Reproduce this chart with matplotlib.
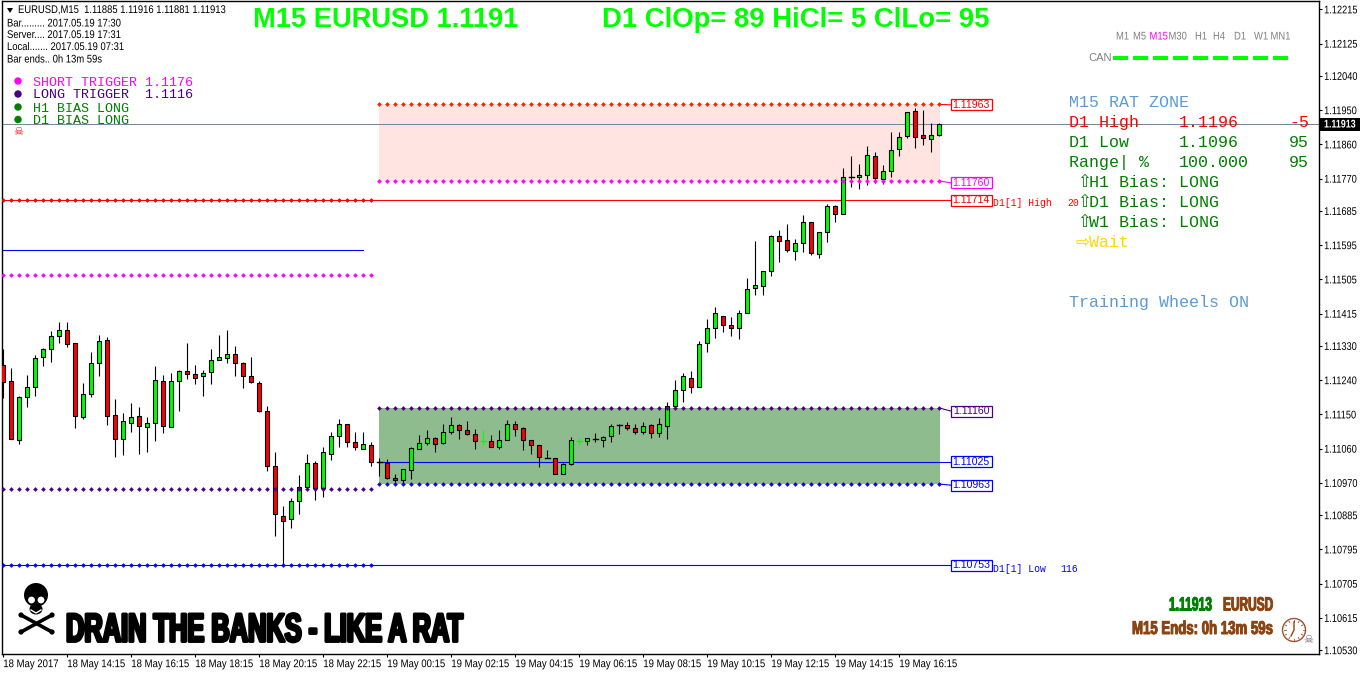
import numpy as np
import matplotlib
matplotlib.use('Agg')
import matplotlib.pyplot as plt
import matplotlib.patheffects as pe
from matplotlib.patches import Circle, Ellipse
from matplotlib.transforms import Affine2D

# EURUSD M15 candles, prices in points (1.11885 -> 111885)
opens = [111279,111237,111082,111195,111221,111300,111321,111355,111371,111337,
         111144,111203,111284,111345,111148,111085,111127,111145,111116,111127,
         111237,111116,111237,111263,111255,111250,111261,111292,111297,111310,
         111284,111250,111232,111158,111014,110882,110874,110921,110959,111022,
         110956,111045,111093,111124,111077,111060,111069,111024,111022,110982,
         110977,111003,111060,111074,111087,111074,111103,111121,111108,111098,
         111079,111079,111063,111084,111124,111113,111084,111069,111036,111035,
         110993,111019,111079,111079,111086,111084,111092,111122,111121,111113,
         111103,111121,111100,111119,111173,111213,111245,111221,111337,111376,
         111409,111384,111376,111416,111482,111487,111527,111619,111608,111579,
         111600,111655,111571,111629,111697,111677,111775,111775,111780,111830,
         111769,111790,111848,111882,111948,111885,111874,111885]
highs = [111322,111271,111198,111253,111305,111324,111368,111393,111393,111337,
         111232,111313,111360,111353,111190,111153,111179,111169,111142,111276,
         111253,111258,111268,111337,111279,111266,111321,111360,111373,111329,
         111289,111300,111237,111171,111051,110908,110929,110990,111045,111027,
         111064,111103,111137,111125,111103,111103,111077,111036,111032,110993,
         111006,111063,111095,111108,111090,111124,111142,111126,111132,111111,
         111108,111095,111108,111134,111132,111116,111084,111069,111056,111036,
         111022,111090,111089,111087,111100,111092,111124,111124,111129,111124,
         111129,111124,111140,111182,111240,111258,111263,111342,111400,111432,
         111409,111406,111424,111508,111605,111527,111621,111634,111650,111611,
         111674,111655,111629,111703,111700,111798,111830,111809,111856,111840,
         111806,111893,111893,111945,111956,111951,111916,111916]
lows = [111194,111085,111073,111170,111198,111278,111288,111338,111328,111113,
        111139,111197,111252,111121,111037,111044,111105,111047,111050,111079,
        111100,111116,111160,111244,111231,111199,111231,111292,111286,111252,
        111220,111232,111156,111000,110831,110756,110852,110889,110958,110924,
        110932,111029,111063,111065,111057,111060,111015,110988,110979,110971,
        110969,110981,111060,111070,111052,111071,111098,111086,111095,111060,
        111069,111063,111058,111084,111093,111057,111045,111013,111035,110992,
        110993,111018,111069,111070,111077,111065,111078,111099,111110,111098,
        111098,111089,111090,111086,111173,111183,111207,111221,111314,111352,
        111367,111357,111349,111416,111465,111463,111513,111552,111576,111555,
        111576,111568,111560,111602,111657,111677,111748,111743,111753,111759,
        111755,111775,111829,111877,111850,111858,111839,111881]
closes = [111236,111086,111195,111221,111297,111321,111355,111371,111334,111147,
          111203,111284,111342,111147,111085,111132,111142,111119,111127,111240,
          111119,111237,111263,111255,111247,111258,111292,111300,111308,111284,
          111250,111234,111158,111014,110889,110871,110921,110959,111022,110956,
          111051,111093,111124,111078,111063,111071,111026,111023,110982,110977,
          111006,111061,111074,111087,111071,111103,111121,111108,111098,111079,
          111079,111063,111084,111124,111111,111084,111069,111037,111035,110993,
          111019,111084,111079,111087,111085,111090,111119,111123,111113,111103,
          111119,111100,111126,111171,111213,111250,111221,111334,111376,111416,
          111384,111376,111416,111479,111490,111527,111619,111605,111582,111600,
          111655,111574,111629,111697,111676,111775,111774,111780,111832,111772,
          111790,111846,111880,111945,111880,111877,111885,111913]

time_labels = ['18 May 2017','18 May 14:15','18 May 16:15','18 May 18:15','18 May 20:15',
               '18 May 22:15','19 May 00:15','19 May 02:15','19 May 04:15','19 May 06:15',
               '19 May 08:15','19 May 10:15','19 May 12:15','19 May 14:15','19 May 16:15']
price_ticks = ['1.12215','1.12125','1.12040','1.11950','1.11860','1.11770','1.11685',
               '1.11595','1.11505','1.11415','1.11330','1.11240','1.11150','1.11060',
               '1.10970','1.10885','1.10795','1.10705','1.10615','1.10530']

# levels in points
short_zone = [111965, 111764]
long_zone = [111167, 110967]
zone_bars = [47, 117]
left_bars = [0, 46]
bid = 111913
d1_high = 111714
d1_low = 110754
mid_line = 111025
left_blue = 111582
left_magenta = 111517
left_purple = 110955

box_labels = [('1.11963', 111964, '#ff0000'), ('1.11760', 111759, '#ff00ff'),
              ('1.11714', 111714, '#ff0000'), ('1.11160', 111159, '#4b0082'),
              ('1.11025', 111025, '#0000ff'), ('1.10963', 110964, '#0000ff'),
              ('1.10753', 110754, '#0000ff')]

timeframes = ['M1','M5','M15','M30','H1','H4','D1','W1','MN1']
tf_x = [1122,1139,1159,1178,1201,1219,1240,1260,1280]


class Squeeze(pe.AbstractPathEffect):
    # no condensed font here, so narrow the glyphs and optionally fatten them
    def __init__(self, sx, stroke=0):
        super().__init__()
        self.sx = sx
        self.stroke = stroke

    def draw_path(self, renderer, gc, tpath, affine, rgbFace=None):
        aff = Affine2D().scale(self.sx, 1) + affine
        if self.stroke:
            gc0 = renderer.new_gc()
            gc0.copy_properties(gc)
            gc0.set_linewidth(self.stroke)
            gc0.set_foreground(rgbFace)
            renderer.draw_path(gc0, tpath, aff, rgbFace)
            gc0.restore()
        renderer.draw_path(gc, tpath, aff, rgbFace)


W, H = 1362, 675
fig = plt.figure(figsize=(W/100, H/100), dpi=100, facecolor='white')
ax = fig.add_axes([2/W, (H-654)/H, 1317/W, 653/H])

idx = np.arange(len(opens))
o, h, l, c = [np.array(a)/1e5 for a in (opens, highs, lows, closes)]
to_p = lambda v: v/1e5

ax.set_xlim(-0.1625, 164.46)
ax.set_ylim(1.10520, 1.12237)

# zones
zone_x = [zone_bars[0]-0.1, zone_bars[1]+0.1]
ax.fill_between(zone_x, to_p(short_zone[1]), to_p(short_zone[0]), color='#ffe4e1', lw=0, zorder=1)
ax.fill_between(zone_x, to_p(long_zone[1]), to_p(long_zone[0]), color='#8fbc8f', lw=0, zorder=1)

# solid lines under the candles
box_x = 118.4
ax.axhline(to_p(bid), color='#778899', lw=0.75, zorder=2)
ax.plot([-0.16, box_x], [to_p(d1_high)]*2, color='#ff0000', lw=0.8, zorder=2)
ax.plot([-0.16, box_x], [to_p(d1_low)]*2, color='#0000ff', lw=0.8, zorder=2)
ax.plot([zone_bars[0]-0.1, box_x], [to_p(mid_line)]*2, color='#0000ff', lw=0.8, zorder=2)
ax.plot([-0.16, 44.95], [to_p(left_blue)]*2, color='#0000ff', lw=0.8, zorder=2)
for lev, lab, col in [(short_zone[0], 111964, '#ff0000'), (short_zone[1], 111759, '#ff00ff'),
                      (long_zone[0], 111159, '#4b0082'), (long_zone[1], 110964, '#0000ff')]:
    ax.plot([zone_bars[1], box_x], [to_p(lev), to_p(lab)], color=col, lw=0.8, zorder=2)

# candles
up = c > o
doji = c == o
thin = np.abs(c-o) < 0.000015
wick_col = ['#00ff00' if d else 'black' for d in doji]
ax.vlines(idx, l, h, colors=wick_col, lw=0.8, zorder=3)
body = ~thin
ax.bar(idx[body], np.abs(c-o)[body], bottom=np.minimum(o, c)[body], width=0.5,
       color=['#00ff00' if u else '#ff0000' for u in up[body]], edgecolor='black', lw=0.8, zorder=4)
for i in idx[thin]:
    ax.plot([i-0.3, i+0.3], [o[i], o[i]], color=wick_col[i], lw=1.0, zorder=4)


# dotted levels on top
def dots(price, bars, col):
    xs = np.arange(bars[0], bars[1]+1)
    ax.plot(xs, [to_p(price)]*len(xs), ls='none', marker='D', ms=2.4, mew=0, color=col, zorder=5)


dots(short_zone[0], zone_bars, '#ff2200')
dots(short_zone[1], zone_bars, '#ff00ff')
dots(long_zone[0], zone_bars, '#4b0082')
dots(long_zone[1], zone_bars, '#1a00e0')
dots(d1_high, left_bars, '#ff0000')
dots(d1_low, left_bars, '#0000ff')
dots(left_magenta, left_bars, '#ff00ff')
dots(left_purple, left_bars, '#4b0082')

# axes
ax.yaxis.tick_right()
ax.set_yticks([float(t) for t in price_ticks])
ax.set_yticklabels(price_ticks, family='Liberation Sans', fontsize=8)
ax.set_xticks(np.arange(len(time_labels))*8)
ax.set_xticklabels(time_labels, ha='left', family='Liberation Sans', fontsize=8)
ax.tick_params(axis='y', length=2.2, width=0.8, pad=1.5)
ax.tick_params(axis='x', length=2.2, width=0.8, pad=1.5)
for tl in ax.get_yticklabels():
    tl.set_path_effects([Squeeze(0.83)])
for tl in ax.get_xticklabels():
    tl.set_path_effects([Squeeze(0.86)])
for s in ax.spines.values():
    s.set_linewidth(1.0)

# overlay in pixels for texts and icons
ov = fig.add_axes([0, 0, 1, 1], facecolor='none')
ov.set_xlim(0, W)
ov.set_ylim(H, 0)
ov.axis('off')

TAH = 'Liberation Sans'
MONO = 'Liberation Mono'


def t(x, y, s, col='black', size=8, fam=TAH, **kw):
    kw.setdefault('va', 'center')
    return ov.text(x, y, s, color=col, fontsize=size, family=fam, **kw)


# info block
tah = [Squeeze(0.85)]
ov.fill([7, 13, 10], [8, 8, 13], color='black', lw=0)
t(18, 10, 'EURUSD,M15  1.11885 1.11916 1.11881 1.11913', path_effects=tah)
t(7, 23.5, 'Bar......... 2017.05.19 17:30', path_effects=tah)
t(7, 35, 'Server.... 2017.05.19 17:31', path_effects=tah)
t(7, 47, 'Local....... 2017.05.19 07:31', path_effects=tah)
t(7, 59.5, 'Bar ends.. 0h 13m 59s', path_effects=tah)

# legend
leg_y = [81, 94, 107, 119.5]
leg_base = [85.5, 98.5, 111.5, 124]
leg_cols = ['#ff00ff', '#4b0082', '#008000', '#008000']
leg_txt = ['SHORT TRIGGER 1.1176', 'LONG TRIGGER  1.1116', 'H1 BIAS LONG', 'D1 BIAS LONG']
for y, b, cl, s in zip(leg_y, leg_base, leg_cols, leg_txt):
    ov.add_patch(Circle((18, y), 3.7, color=cl, lw=0))
    t(33, b, s, cl, 9.6, MONO, va='baseline')
t(18.5, 132, '\u2620', '#ff0000', 8, 'DejaVu Sans', ha='center')

# headers
t(253, 20, 'M15 EURUSD 1.1191', '#00ff00', 19.6, TAH, weight='bold')
t(602, 20, 'D1 ClOp= 89 HiCl= 5 ClLo= 95', '#00ff00', 19.8, TAH, weight='bold')

# time frame strip
for x, s in zip(tf_x, timeframes):
    t(x-6 if len(s) == 2 else x-9.5, 36.5, s, '#ff00ff' if s == 'M15' else '#808080', 8, TAH, path_effects=tah)
t(1088, 58, 'CAN', '#808080', 8, TAH)
for k in range(9):
    ov.fill([1113+20*k, 1128+20*k, 1128+20*k, 1113+20*k], [56, 56, 60, 60], color='#00ff00', lw=0)

# rat zone panel
pan = 12
t(1069, 107, 'M15 RAT ZONE', '#5b9bd5', pan, MONO, va='baseline')
rows = [(127, 'D1 High', '1.1196', '-5', '#ff0000'),
        (147, 'D1 Low', '1.1096', '95', '#008000'),
        (167, 'Range| %', '100.000', '95', '#008000')]
for y, a, b, d, cl in rows:
    t(1069, y, a, cl, pan, MONO, va='baseline')
    t(1179, y, b, cl, pan, MONO, va='baseline')
    t(1309, y, d, cl, pan, MONO, ha='right', va='baseline')
for y, s in zip([187, 207, 227], ['H1 Bias: LONG', 'D1 Bias: LONG', 'W1 Bias: LONG']):
    t(1077, y, '\u21e7', '#008000', 12, 'DejaVu Sans', va='baseline')
    t(1089, y, s, '#008000', pan, MONO, va='baseline')
t(1075, 247, '\u21e8', '#ffd700', 12, 'DejaVu Sans', va='baseline')
t(1089, 247, 'Wait', '#ffd700', pan, MONO, va='baseline')
t(1069, 307, 'Training Wheels ON', '#5b9bd5', pan, MONO, va='baseline')

# labels next to the lines
for s, p, cl in box_labels:
    y = (112240-p)/2.63
    ov.fill([950.5, 992, 992, 950.5, 950.5], [y-5.5, y-5.5, y+5.5, y+5.5, y-5.5], fc='white', ec=cl, lw=0.9, zorder=6)
    t(971, y, s, cl, 7.6, TAH, ha='center', zorder=7)
t(993, 203.5, 'D1[1] High', '#ff0000', 7, MONO)
t(1079, 203.5, '20', '#ff0000', 7, MONO, ha='right')
t(993, 568.5, 'D1[1] Low', '#0000ff', 7, MONO)
t(1078, 568.5, '116', '#0000ff', 7, MONO, ha='right')

# current price box
ov.fill([1320, 1360, 1360, 1320], [118, 118, 131, 131], color='black', lw=0, zorder=6)
t(1324, 124.5, '1.11913', 'white', 8, TAH, weight='bold', zorder=7, path_effects=[Squeeze(0.8)])

# slogan, Impact style
t(66, 641.5, 'DRAIN THE BANKS - LIKE A RAT', 'black', 28.8, TAH, weight='bold', va='baseline',
  path_effects=[Squeeze(0.635, 2.1)])
t(1169, 610.5, '1.11913', '#008000', 13.8, TAH, weight='bold', va='baseline', path_effects=[Squeeze(0.63, 0.7)])
t(1223, 610.5, 'EURUSD', '#8b4513', 13.8, TAH, weight='bold', va='baseline', path_effects=[Squeeze(0.62, 0.7)])
t(1132, 634, 'M15 Ends: 0h 13m 59s', '#8b4513', 13.3, TAH, weight='bold', va='baseline', path_effects=[Squeeze(0.715, 0.7)])

# big skull
ov.add_patch(Ellipse((36, 595), 24, 24, color='black', lw=0))
ov.add_patch(Ellipse((36, 609), 13, 11, color='black', lw=0))
ov.add_patch(Circle((31.5, 600), 3.4, color='white', lw=0))
ov.add_patch(Circle((41, 600), 3.4, color='white', lw=0))
ov.plot([31, 36, 41], [610, 613, 610], color='white', lw=1.0)
for a, b in [((21, 615), (52, 632)), ((52, 615), (21, 632))]:
    ov.plot([a[0], b[0]], [a[1], b[1]], color='black', lw=2.6, solid_capstyle='round')
    for e in (a, b):
        ov.add_patch(Circle(e, 2.6, color='black', lw=0))

# clock with small skull
ov.add_patch(Circle((1294, 630), 11.5, fc='none', ec='#a0522d', lw=1))
for ang in np.arange(0, 360, 30):
    ov.plot([1294+10*np.sin(np.radians(ang)), 1294+8.5*np.sin(np.radians(ang))],
            [630-10*np.cos(np.radians(ang)), 630-8.5*np.cos(np.radians(ang))], color='#a0522d', lw=0.6)
ov.plot([1294, 1294, 1291], [622, 630, 636], color='#8b4513', lw=1)
t(1308, 640, '\u2620', '#666666', 8, 'DejaVu Sans', ha='center')

fig.savefig('out.png', dpi=100)
